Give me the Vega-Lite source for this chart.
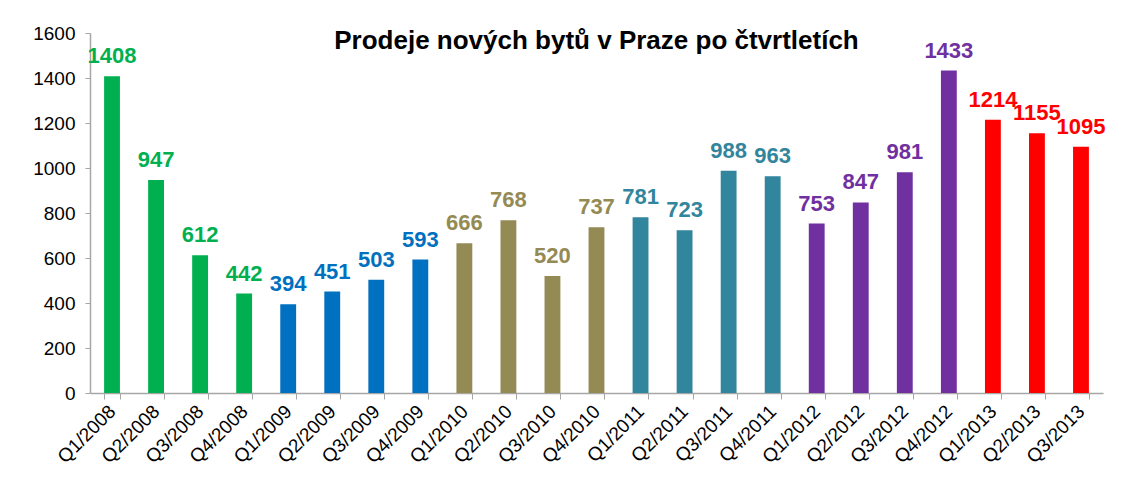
{
  "$schema": "https://vega.github.io/schema/vega-lite/v6.json",
  "autosize": "none",
  "width": 1013,
  "height": 360,
  "padding": {"left": 90, "top": 33, "right": 41, "bottom": 105},
  "background": "white",
  "config": {
    "font": "Liberation Sans",
    "view": {"stroke": null}
  },
  "title": {
    "text": "Prodeje nových bytů v Praze po čtvrtletích",
    "font": "Liberation Sans",
    "fontSize": 26,
    "fontWeight": "bold",
    "color": "black",
    "anchor": "middle",
    "offset": -30
  },
  "data": {
    "values": [
      {"q": "Q1/2008", "year": "2008", "v": 1408},
      {"q": "Q2/2008", "year": "2008", "v": 947},
      {"q": "Q3/2008", "year": "2008", "v": 612},
      {"q": "Q4/2008", "year": "2008", "v": 442},
      {"q": "Q1/2009", "year": "2009", "v": 394},
      {"q": "Q2/2009", "year": "2009", "v": 451},
      {"q": "Q3/2009", "year": "2009", "v": 503},
      {"q": "Q4/2009", "year": "2009", "v": 593},
      {"q": "Q1/2010", "year": "2010", "v": 666},
      {"q": "Q2/2010", "year": "2010", "v": 768},
      {"q": "Q3/2010", "year": "2010", "v": 520},
      {"q": "Q4/2010", "year": "2010", "v": 737},
      {"q": "Q1/2011", "year": "2011", "v": 781},
      {"q": "Q2/2011", "year": "2011", "v": 723},
      {"q": "Q3/2011", "year": "2011", "v": 988},
      {"q": "Q4/2011", "year": "2011", "v": 963},
      {"q": "Q1/2012", "year": "2012", "v": 753},
      {"q": "Q2/2012", "year": "2012", "v": 847},
      {"q": "Q3/2012", "year": "2012", "v": 981},
      {"q": "Q4/2012", "year": "2012", "v": 1433},
      {"q": "Q1/2013", "year": "2013", "v": 1214},
      {"q": "Q2/2013", "year": "2013", "v": 1155},
      {"q": "Q3/2013", "year": "2013", "v": 1095}
    ]
  },
  "encoding": {
    "x": {
      "field": "q",
      "type": "ordinal",
      "sort": null,
      "scale": {"paddingInner": 0.64, "paddingOuter": 0.32},
      "axis": {
        "title": null,
        "labelAngle": -45,
        "labelAlign": "right",
        "labelBaseline": "middle",
        "labelFontSize": 19,
        "labelColor": "black",
        "labelPadding": 9,
        "tickBand": "extent",
        "tickSize": 6,
        "tickColor": "#a6a6a6",
        "domainColor": "#a6a6a6",
        "domainWidth": 1.5,
        "grid": false
      }
    },
    "y": {
      "field": "v",
      "type": "quantitative",
      "scale": {"domain": [0, 1600], "nice": false},
      "axis": {
        "title": null,
        "format": "d",
        "values": [0, 200, 400, 600, 800, 1000, 1200, 1400, 1600],
        "labelFontSize": 19,
        "labelColor": "black",
        "labelPadding": 10,
        "tickSize": 5,
        "tickColor": "#a6a6a6",
        "domainColor": "#a6a6a6",
        "domainWidth": 1.5,
        "grid": false
      }
    },
    "color": {
      "field": "year",
      "type": "nominal",
      "legend": null,
      "scale": {
        "domain": ["2008", "2009", "2010", "2011", "2012", "2013"],
        "range": ["#00B050", "#0070C0", "#948A54", "#31859C", "#7030A0", "#FF0000"]
      }
    }
  },
  "layer": [
    {"mark": {"type": "bar"}},
    {
      "mark": {"type": "text", "baseline": "bottom", "dy": -8, "fontSize": 22, "fontWeight": "bold"},
      "encoding": {"text": {"field": "v", "type": "quantitative", "format": "d"}}
    }
  ]
}
